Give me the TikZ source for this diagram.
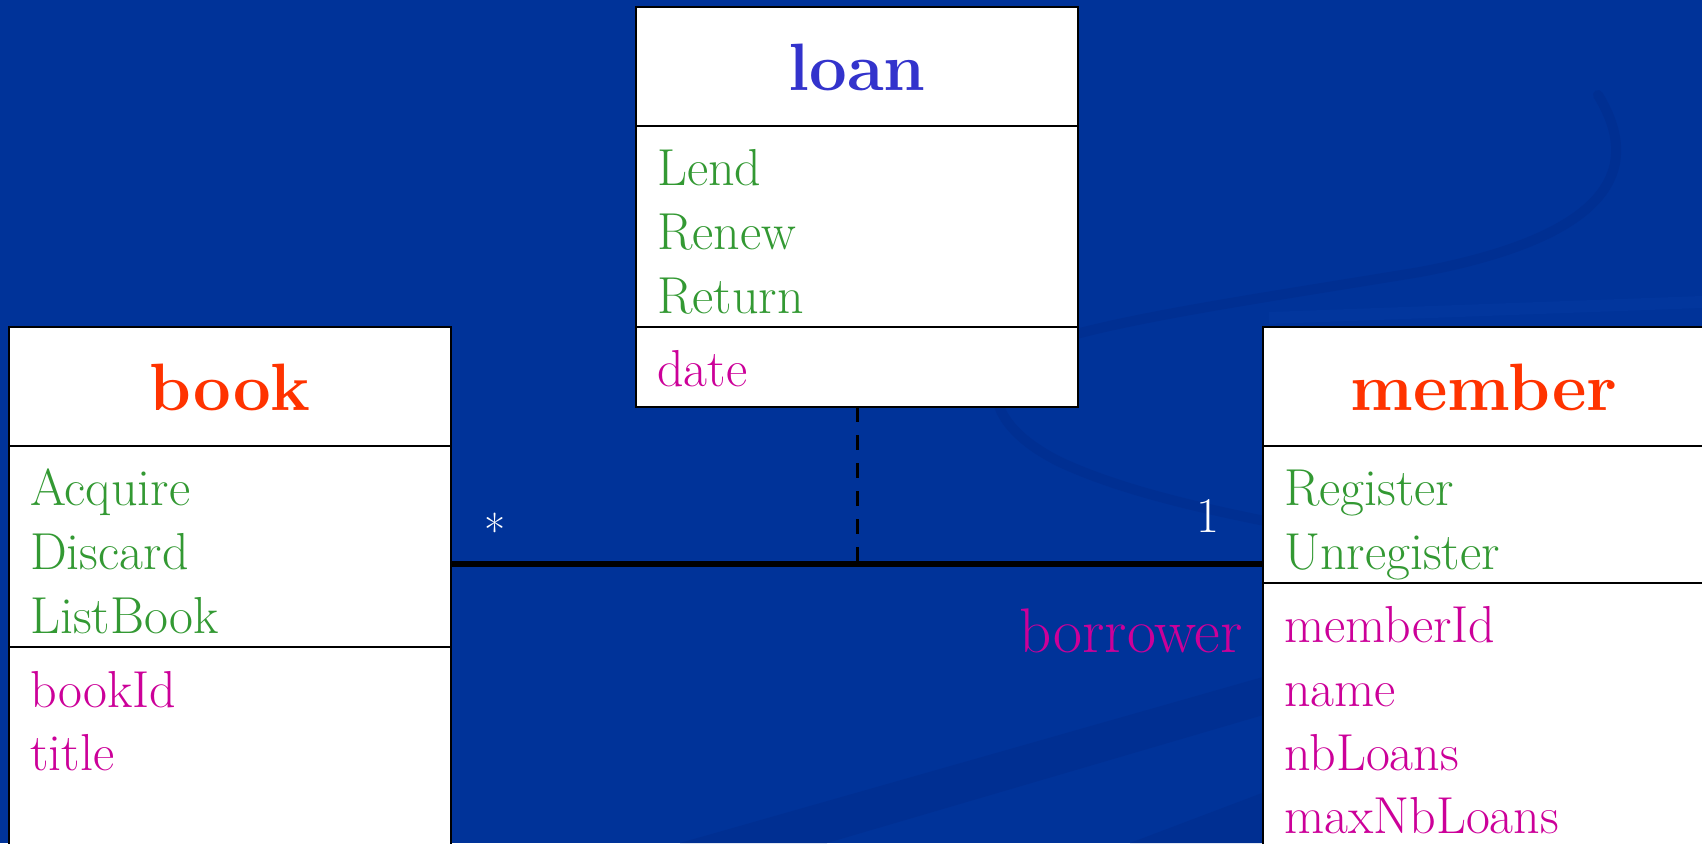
\documentclass[tikz,border=0pt]{standalone}
\usepackage{xcolor}
\definecolor{bgblue}{HTML}{003399}
\definecolor{swirlD}{HTML}{002F92}
\definecolor{swirlL}{HTML}{02369D}
\definecolor{opgreen}{HTML}{339933}
\definecolor{attrmag}{HTML}{CC0099}
\definecolor{titlered}{HTML}{FF3300}
\definecolor{titleblue}{HTML}{3333CC}
\begin{document}
\begin{tikzpicture}[x=1pt,y=-1pt,
  classbox/.style={draw=black, line width=2pt, fill=white, rectangle, inner sep=0pt, outer sep=0pt, anchor=north west, minimum width=442pt},
  divider/.style={draw=black, line width=2pt},
  optext/.style={anchor=base west, inner sep=0pt, text=opgreen, font=\fontsize{52}{52}\selectfont},
  attrtext/.style={anchor=base west, inner sep=0pt, text=attrmag, font=\fontsize{52}{52}\selectfont},
  titletext/.style={anchor=base, inner sep=0pt, font=\fontsize{67}{67}\selectfont\bfseries},
  multtext/.style={inner sep=0pt, text=white},
  assoc/.style={draw=black, line width=6pt},
  assocclass/.style={draw=black, line width=3pt, dash pattern=on 15pt off 13pt},
  swirl/.style={draw=swirlD, line cap=round}
]
\useasboundingbox (0,0) rectangle (1702,843);
\begin{scope}
\clip (0,0) rectangle (1702,843);
\fill[bgblue] (0,0) rectangle (1702,843);
% faint background swirl
\draw[swirl, line width=10pt] (1598,95) .. controls (1650,180) and (1590,240) .. (1420,272)
  .. controls (1250,300) and (1110,320) .. (1040,345)
  .. controls (975,372) and (985,425) .. (1060,462)
  .. controls (1120,490) and (1200,508) .. (1270,522);
\draw[draw=swirlL, line width=12pt] (1269,318) -- (1702,302);
\fill[swirlD] (680,843) -- (1270,675) -- (1270,713) -- (827,843) -- cycle;
\fill[swirlD] (1130,843) -- (1270,790) -- (1270,843) -- cycle;

% class boxes
\node[classbox, minimum height=400pt] (loan) at (636,7) {};
\node[classbox, minimum height=600pt] (book) at (9,327) {};
\node[classbox, minimum height=600pt] (member) at (1263,327) {};

\draw[divider] (loan.west |- 0,126) -- (loan.east |- 0,126);
\draw[divider] (loan.west |- 0,327) -- (loan.east |- 0,327);
\draw[divider] (book.west |- 0,446) -- (book.east |- 0,446);
\draw[divider] (book.west |- 0,647) -- (book.east |- 0,647);
\draw[divider] (member.west |- 0,446) -- (member.east |- 0,446);
\draw[divider] (member.west |- 0,583) -- (member.east |- 0,583);

% loan
\node[titletext, text=titleblue] (loanT) at (857,90) {loan};
\node[optext] (lend) at (657,185) {Lend};
\node[optext] (renew) at (657,249) {Renew};
\node[optext] (return) at (657,313) {Return};
\node[attrtext] (date) at (657,386) {date};

% book
\node[titletext, text=titlered] (bookT) at (230,410) {book};
\node[optext] (acquire) at (30,505) {Acquire};
\node[optext] (discard) at (30,569) {Discard};
\node[optext] (listbook) at (30,633) {ListBook};
\node[attrtext] (bookid) at (30,707) {bookId};
\node[attrtext] (title) at (30,770) {title};

% member
\node[titletext, text=titlered] (memberT) at (1484,410) {member};
\node[optext] (register) at (1284,505) {Register};
\node[optext] (unregister) at (1284,569) {Unregister};
\node[attrtext] (memberid) at (1284,642) {memberId};
\node[attrtext] (name) at (1284,706) {name};
\node[attrtext] (nbloans) at (1284,770) {nbLoans};
\node[attrtext] (maxnbloans) at (1284,833) {maxNbLoans};

% association
\coordinate (mid) at (857,564);
\draw[assoc] (book.east |- mid) -- (member.west |- mid);
\draw[assocclass] (loan.south) -- (mid);

\node[multtext, anchor=north, font=\fontsize{46}{46}\selectfont] (many) at (495,513) {*};
\node[multtext, anchor=base, font=\fontsize{50}{50}\selectfont] (one) at (1208,532) {1};
\node[anchor=base east, inner sep=0pt, text=attrmag, font=\fontsize{63}{63}\selectfont] (borrower) at (1243,652) {borrower};
\end{scope}
\end{tikzpicture}
\end{document}
